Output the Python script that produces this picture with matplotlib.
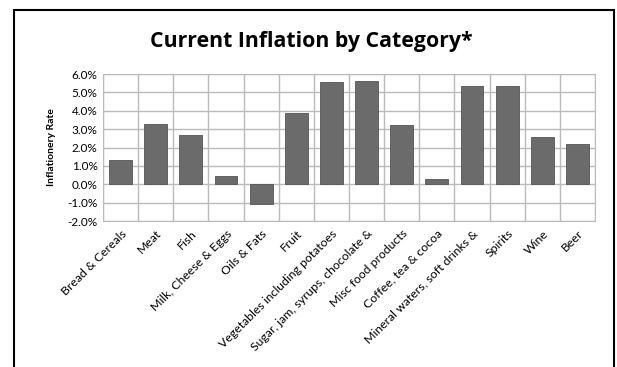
import matplotlib.pyplot as plt
from matplotlib.patches import Rectangle
from matplotlib.ticker import FuncFormatter

categories = ["Bread & Cereals", "Meat", "Fish", "Milk, Cheese & Eggs", "Oils & Fats",
              "Fruit", "Vegetables including potatoes", "Sugar, jam, syrups, chocolate &",
              "Misc food products", "Coffee, tea & cocoa", "Mineral waters, soft drinks &",
              "Spirits", "Wine", "Beer"]
rates = [1.30, 3.30, 2.70, 0.43, -1.05, 3.90, 5.57, 5.63, 3.22, 0.28, 5.33, 5.35, 2.57, 2.17]
yticks = [-2, -1, 0, 1, 2, 3, 4, 5, 6]

plt.rcParams['font.family'] = ['Lato', 'DejaVu Sans']

fig = plt.figure(figsize=(6.17, 3.67), dpi=100)
ax = fig.add_axes([103 / 617, 1 - 221 / 367, 492 / 617, 147 / 367])

# outer chart frame
fig.patches.append(Rectangle((14 / 617, -0.05), 600 / 617, 1 - 10 / 367 + 0.05,
                             transform=fig.transFigure, fill=False,
                             edgecolor="black", linewidth=1.5))

x = range(len(categories))
ax.bar(x, rates, width=0.65, color="#6b6b6b", edgecolor="#555555", linewidth=0.6, zorder=3)

ax.set_xlim(-0.5, len(categories) - 0.5)
ax.set_ylim(-2, 6)
ax.set_yticks(yticks)
ax.yaxis.set_major_formatter(FuncFormatter(lambda v, p: f"{v:.1f}%"))
ax.set_xticks(list(x))
ax.set_xticklabels(categories, rotation=45, ha="right", rotation_mode="anchor", fontsize=8.8)
ax.set_xticks([i - 0.5 for i in range(len(categories) + 1)], minor=True)
ax.tick_params(axis="x", which="both", length=0, pad=5)
ax.tick_params(axis="y", length=0, labelsize=8.5, pad=4)

ax.grid(True, axis="y", color="#bbbbbb", linewidth=1, zorder=0)
ax.grid(True, axis="x", which="minor", color="#bbbbbb", linewidth=1, zorder=0)
for s in ax.spines.values():
    s.set_color("#bbbbbb")

ax.set_ylabel("Inflationery Rate", fontsize=7.5, fontweight="bold", labelpad=8)
fig.text(0.5 + 3 / 617, 1 - 42 / 367, "Current Inflation by Category*", ha="center",
         va="center", fontsize=15.3, fontweight="bold", family=["Open Sans", "DejaVu Sans"])

fig.savefig("out.png", dpi=100)
